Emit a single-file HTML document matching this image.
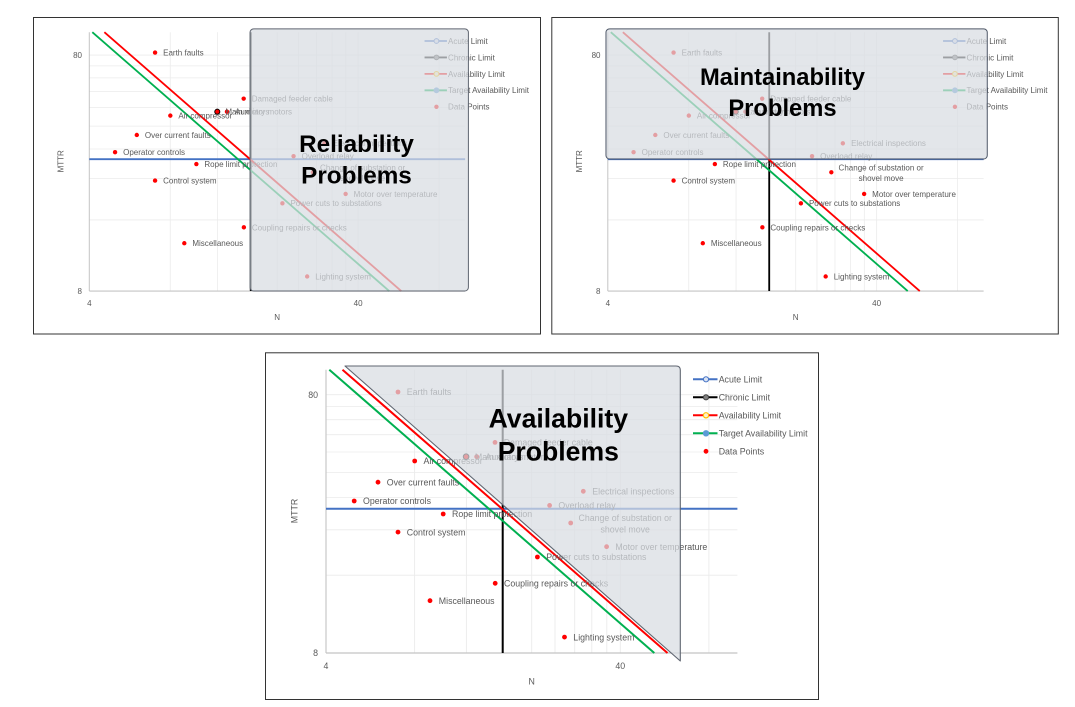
<!DOCTYPE html>
<html>
<head>
<meta charset="utf-8">
<style>
html,body{margin:0;padding:0;background:#fff;}
svg{display:block}
text{font-family:"Liberation Sans",Arial,sans-serif;}
</style>
</head>
<body>
<svg width="1075" height="707" viewBox="0 0 1075 707" xmlns="http://www.w3.org/2000/svg">
<rect x="0" y="0" width="1075" height="707" fill="#ffffff"/>

<!-- Panel borders -->
<rect x="33.5" y="17.5" width="507" height="316.5" fill="#fff" stroke="#333" stroke-width="1"/>
<rect x="551.8" y="17.5" width="506.5" height="316.5" fill="#fff" stroke="#333" stroke-width="1"/>
<rect x="265.5" y="352.8" width="553" height="346.7" fill="#fff" stroke="#333" stroke-width="1"/>

<!-- ================= PANEL 1 : Reliability ================= -->
<g transform="translate(-208.5,-305.5) scale(0.9135)">
  <g stroke="#ebebeb" stroke-width="0.85">
    <line x1="414.6" y1="369.7" x2="414.6" y2="653"/>
    <line x1="466.4" y1="369.7" x2="466.4" y2="653"/>
    <line x1="503.2" y1="369.7" x2="503.2" y2="653"/>
    <line x1="531.7" y1="369.7" x2="531.7" y2="653"/>
    <line x1="555.0" y1="369.7" x2="555.0" y2="653"/>
    <line x1="574.7" y1="369.7" x2="574.7" y2="653"/>
    <line x1="591.8" y1="369.7" x2="591.8" y2="653"/>
    <line x1="606.8" y1="369.7" x2="606.8" y2="653"/>
    <line x1="620.3" y1="369.7" x2="620.3" y2="653"/>
    <line x1="708.9" y1="369.7" x2="708.9" y2="653"/>
    <line x1="326" y1="575.2" x2="737.4" y2="575.2"/>
    <line x1="326" y1="529.8" x2="737.4" y2="529.8"/>
    <line x1="326" y1="497.5" x2="737.4" y2="497.5"/>
    <line x1="326" y1="472.5" x2="737.4" y2="472.5"/>
    <line x1="326" y1="452.0" x2="737.4" y2="452.0"/>
    <line x1="326" y1="434.7" x2="737.4" y2="434.7"/>
    <line x1="326" y1="419.7" x2="737.4" y2="419.7"/>
    <line x1="326" y1="406.5" x2="737.4" y2="406.5"/>
    <line x1="326" y1="394.7" x2="737.4" y2="394.7"/>
  </g>
  <line x1="326" y1="369.7" x2="326" y2="653" stroke="#c4c4c4" stroke-width="1.1"/>
  <line x1="326" y1="653" x2="737.4" y2="653" stroke="#c4c4c4" stroke-width="1.2"/>
  <g fill="#595959" font-size="8.8">
    <text x="318" y="397.9" text-anchor="end">80</text>
    <text x="318" y="656.2" text-anchor="end">8</text>
    <text x="326" y="669.2" text-anchor="middle">4</text>
    <text x="620.3" y="669.2" text-anchor="middle">40</text>
    <text x="531.7" y="684.5" text-anchor="middle">N</text>
    <text x="0" y="0" text-anchor="middle" transform="translate(297.5,511) rotate(-90)">MTTR</text>
  </g>
  <line x1="326" y1="508.7" x2="737.4" y2="508.7" stroke="#4472c4" stroke-width="2"/>
  <line x1="502.7" y1="369.7" x2="502.7" y2="653" stroke="#000" stroke-width="2"/>
  <line x1="342.5" y1="369.7" x2="667.5" y2="653" stroke="#ff0000" stroke-width="2"/>
  <line x1="329.3" y1="369.7" x2="654.3" y2="653" stroke="#00b050" stroke-width="2"/>
  <g fill="#ff0000">
    <circle cx="398" cy="392" r="2.4"/>
    <circle cx="495" cy="442.4" r="2.4"/>
    <circle cx="466.1" cy="456.7" r="2.8" stroke="#000" stroke-width="1"/>
    <circle cx="476.7" cy="456.7" r="2.4"/>
    <circle cx="414.7" cy="461" r="2.4"/>
    <circle cx="378" cy="482.2" r="2.4"/>
    <circle cx="354.2" cy="501" r="2.4"/>
    <circle cx="443.2" cy="514" r="2.4"/>
    <circle cx="398" cy="532.1" r="2.4"/>
    <circle cx="430" cy="600.7" r="2.4"/>
    <circle cx="495.2" cy="583.3" r="2.4"/>
    <circle cx="537.4" cy="557" r="2.4"/>
    <circle cx="564.5" cy="637.1" r="2.4"/>
    <circle cx="606.6" cy="546.7" r="2.4"/>
    <circle cx="583.3" cy="491.3" r="2.4"/>
    <circle cx="549.6" cy="505.4" r="2.4"/>
    <circle cx="570.7" cy="523" r="2.4"/>
  </g>
  <g fill="#595959" font-size="8.8">
    <text x="406.8" y="395.2">Earth faults</text>
    <text x="503.8" y="445.6">Damaged feeder cable</text>
    <text x="474.9" y="459.9">Main motors</text>
    <text x="485.5" y="459.9">Auxiliary motors</text>
    <text x="423.5" y="464.2">Air compressor</text>
    <text x="386.8" y="485.4">Over current faults</text>
    <text x="363" y="504.2">Operator controls</text>
    <text x="452" y="517.2">Rope limit protection</text>
    <text x="406.8" y="535.3">Control system</text>
    <text x="438.8" y="603.9">Miscellaneous</text>
    <text x="504" y="586.5">Coupling repairs or checks</text>
    <text x="546.2" y="560.2">Power cuts to substations</text>
    <text x="573.3" y="640.3">Lighting system</text>
    <text x="615.4" y="549.9">Motor over temperature</text>
    <text x="592.3" y="494.5">Electrical inspections</text>
    <text x="558.4" y="508.6">Overload relay</text>
    <text x="625.2" y="520.9" text-anchor="middle">Change of substation or</text>
    <text x="625.2" y="532.7" text-anchor="middle">shovel move</text>
  </g>
  <g>
    <line x1="693" y1="379.3" x2="717.5" y2="379.3" stroke="#4472c4" stroke-width="2"/>
    <circle cx="706" cy="379.3" r="2.6" fill="#dae3f3" stroke="#4472c4" stroke-width="1"/>
    <line x1="693" y1="397.3" x2="717.5" y2="397.3" stroke="#000" stroke-width="2"/>
    <circle cx="706" cy="397.3" r="2.6" fill="#808080" stroke="#404040" stroke-width="1"/>
    <line x1="693" y1="415.3" x2="717.5" y2="415.3" stroke="#ff0000" stroke-width="2"/>
    <circle cx="706" cy="415.3" r="2.6" fill="#fff2cc" stroke="#ffc000" stroke-width="1.2"/>
    <line x1="693" y1="433.3" x2="717.5" y2="433.3" stroke="#00b050" stroke-width="2"/>
    <circle cx="706" cy="433.3" r="2.7" fill="#5b9bd5" stroke="#5b9bd5" stroke-width="1"/>
    <circle cx="706" cy="451.3" r="2.4" fill="#ff0000"/>
    <g fill="#595959" font-size="8.8">
      <text x="718.7" y="382.5">Acute Limit</text>
      <text x="718.7" y="400.5">Chronic Limit</text>
      <text x="718.7" y="418.5">Availability Limit</text>
      <text x="718.7" y="436.5">Target Availability Limit</text>
      <text x="718.7" y="454.5">Data Points</text>
    </g>
  </g>
  <!-- overlay -->
  <rect x="502" y="366" width="239" height="287" rx="4" ry="4" fill="#d8dce2" fill-opacity="0.72" stroke="#5f6570" stroke-width="1.1"/>
  <g fill="#000" font-size="26.6" font-weight="bold" text-anchor="middle">
    <text x="618.5" y="500.6">Reliability</text>
    <text x="618.5" y="535.3">Problems</text>
  </g>
</g>

<!-- ================= PANEL 2 : Maintainability ================= -->
<g transform="translate(310,-305.5) scale(0.9135)">
  <g stroke="#ebebeb" stroke-width="0.85">
    <line x1="414.6" y1="369.7" x2="414.6" y2="653"/>
    <line x1="466.4" y1="369.7" x2="466.4" y2="653"/>
    <line x1="503.2" y1="369.7" x2="503.2" y2="653"/>
    <line x1="531.7" y1="369.7" x2="531.7" y2="653"/>
    <line x1="555.0" y1="369.7" x2="555.0" y2="653"/>
    <line x1="574.7" y1="369.7" x2="574.7" y2="653"/>
    <line x1="591.8" y1="369.7" x2="591.8" y2="653"/>
    <line x1="606.8" y1="369.7" x2="606.8" y2="653"/>
    <line x1="620.3" y1="369.7" x2="620.3" y2="653"/>
    <line x1="708.9" y1="369.7" x2="708.9" y2="653"/>
    <line x1="326" y1="575.2" x2="737.4" y2="575.2"/>
    <line x1="326" y1="529.8" x2="737.4" y2="529.8"/>
    <line x1="326" y1="497.5" x2="737.4" y2="497.5"/>
    <line x1="326" y1="472.5" x2="737.4" y2="472.5"/>
    <line x1="326" y1="452.0" x2="737.4" y2="452.0"/>
    <line x1="326" y1="434.7" x2="737.4" y2="434.7"/>
    <line x1="326" y1="419.7" x2="737.4" y2="419.7"/>
    <line x1="326" y1="406.5" x2="737.4" y2="406.5"/>
    <line x1="326" y1="394.7" x2="737.4" y2="394.7"/>
  </g>
  <line x1="326" y1="369.7" x2="326" y2="653" stroke="#c4c4c4" stroke-width="1.1"/>
  <line x1="326" y1="653" x2="737.4" y2="653" stroke="#c4c4c4" stroke-width="1.2"/>
  <g fill="#595959" font-size="8.8">
    <text x="318" y="397.9" text-anchor="end">80</text>
    <text x="318" y="656.2" text-anchor="end">8</text>
    <text x="326" y="669.2" text-anchor="middle">4</text>
    <text x="620.3" y="669.2" text-anchor="middle">40</text>
    <text x="531.7" y="684.5" text-anchor="middle">N</text>
    <text x="0" y="0" text-anchor="middle" transform="translate(297.5,511) rotate(-90)">MTTR</text>
  </g>
  <line x1="326" y1="508.7" x2="737.4" y2="508.7" stroke="#4472c4" stroke-width="2"/>
  <line x1="502.7" y1="369.7" x2="502.7" y2="653" stroke="#000" stroke-width="2"/>
  <line x1="342.5" y1="369.7" x2="667.5" y2="653" stroke="#ff0000" stroke-width="2"/>
  <line x1="329.3" y1="369.7" x2="654.3" y2="653" stroke="#00b050" stroke-width="2"/>
  <g fill="#ff0000">
    <circle cx="398" cy="392" r="2.4"/>
    <circle cx="495" cy="442.4" r="2.4"/>
    <circle cx="466.1" cy="456.7" r="2.8" stroke="#000" stroke-width="1"/>
    <circle cx="476.7" cy="456.7" r="2.4"/>
    <circle cx="414.7" cy="461" r="2.4"/>
    <circle cx="378" cy="482.2" r="2.4"/>
    <circle cx="354.2" cy="501" r="2.4"/>
    <circle cx="443.2" cy="514" r="2.4"/>
    <circle cx="398" cy="532.1" r="2.4"/>
    <circle cx="430" cy="600.7" r="2.4"/>
    <circle cx="495.2" cy="583.3" r="2.4"/>
    <circle cx="537.4" cy="557" r="2.4"/>
    <circle cx="564.5" cy="637.1" r="2.4"/>
    <circle cx="606.6" cy="546.7" r="2.4"/>
    <circle cx="583.3" cy="491.3" r="2.4"/>
    <circle cx="549.6" cy="505.4" r="2.4"/>
    <circle cx="570.7" cy="523" r="2.4"/>
  </g>
  <g fill="#595959" font-size="8.8">
    <text x="406.8" y="395.2">Earth faults</text>
    <text x="503.8" y="445.6">Damaged feeder cable</text>
    <text x="474.9" y="459.9">Main motors</text>
    <text x="485.5" y="459.9">Auxiliary motors</text>
    <text x="423.5" y="464.2">Air compressor</text>
    <text x="386.8" y="485.4">Over current faults</text>
    <text x="363" y="504.2">Operator controls</text>
    <text x="452" y="517.2">Rope limit protection</text>
    <text x="406.8" y="535.3">Control system</text>
    <text x="438.8" y="603.9">Miscellaneous</text>
    <text x="504" y="586.5">Coupling repairs or checks</text>
    <text x="546.2" y="560.2">Power cuts to substations</text>
    <text x="573.3" y="640.3">Lighting system</text>
    <text x="615.4" y="549.9">Motor over temperature</text>
    <text x="592.3" y="494.5">Electrical inspections</text>
    <text x="558.4" y="508.6">Overload relay</text>
    <text x="625.2" y="520.9" text-anchor="middle">Change of substation or</text>
    <text x="625.2" y="532.7" text-anchor="middle">shovel move</text>
  </g>
  <g>
    <line x1="693" y1="379.3" x2="717.5" y2="379.3" stroke="#4472c4" stroke-width="2"/>
    <circle cx="706" cy="379.3" r="2.6" fill="#dae3f3" stroke="#4472c4" stroke-width="1"/>
    <line x1="693" y1="397.3" x2="717.5" y2="397.3" stroke="#000" stroke-width="2"/>
    <circle cx="706" cy="397.3" r="2.6" fill="#808080" stroke="#404040" stroke-width="1"/>
    <line x1="693" y1="415.3" x2="717.5" y2="415.3" stroke="#ff0000" stroke-width="2"/>
    <circle cx="706" cy="415.3" r="2.6" fill="#fff2cc" stroke="#ffc000" stroke-width="1.2"/>
    <line x1="693" y1="433.3" x2="717.5" y2="433.3" stroke="#00b050" stroke-width="2"/>
    <circle cx="706" cy="433.3" r="2.7" fill="#5b9bd5" stroke="#5b9bd5" stroke-width="1"/>
    <circle cx="706" cy="451.3" r="2.4" fill="#ff0000"/>
    <g fill="#595959" font-size="8.8">
      <text x="718.7" y="382.5">Acute Limit</text>
      <text x="718.7" y="400.5">Chronic Limit</text>
      <text x="718.7" y="418.5">Availability Limit</text>
      <text x="718.7" y="436.5">Target Availability Limit</text>
      <text x="718.7" y="454.5">Data Points</text>
    </g>
  </g>
  <!-- overlay -->
  <rect x="324" y="366" width="417.4" height="142.5" rx="4" ry="4" fill="#d8dce2" fill-opacity="0.72" stroke="#4f5868" stroke-width="1.1"/>
  <g fill="#000" font-size="26" font-weight="bold" text-anchor="middle">
    <text x="517.2" y="427.7">Maintainability</text>
    <text x="517.2" y="461.6">Problems</text>
  </g>
</g>

<!-- ================= PANEL 3 : Availability ================= -->
<g>
  <g stroke="#ebebeb" stroke-width="0.85">
    <line x1="414.6" y1="369.7" x2="414.6" y2="653"/>
    <line x1="466.4" y1="369.7" x2="466.4" y2="653"/>
    <line x1="503.2" y1="369.7" x2="503.2" y2="653"/>
    <line x1="531.7" y1="369.7" x2="531.7" y2="653"/>
    <line x1="555.0" y1="369.7" x2="555.0" y2="653"/>
    <line x1="574.7" y1="369.7" x2="574.7" y2="653"/>
    <line x1="591.8" y1="369.7" x2="591.8" y2="653"/>
    <line x1="606.8" y1="369.7" x2="606.8" y2="653"/>
    <line x1="620.3" y1="369.7" x2="620.3" y2="653"/>
    <line x1="708.9" y1="369.7" x2="708.9" y2="653"/>
    <line x1="326" y1="575.2" x2="737.4" y2="575.2"/>
    <line x1="326" y1="529.8" x2="737.4" y2="529.8"/>
    <line x1="326" y1="497.5" x2="737.4" y2="497.5"/>
    <line x1="326" y1="472.5" x2="737.4" y2="472.5"/>
    <line x1="326" y1="452.0" x2="737.4" y2="452.0"/>
    <line x1="326" y1="434.7" x2="737.4" y2="434.7"/>
    <line x1="326" y1="419.7" x2="737.4" y2="419.7"/>
    <line x1="326" y1="406.5" x2="737.4" y2="406.5"/>
    <line x1="326" y1="394.7" x2="737.4" y2="394.7"/>
  </g>
  <line x1="326" y1="369.7" x2="326" y2="653" stroke="#c4c4c4" stroke-width="1.1"/>
  <line x1="326" y1="653" x2="737.4" y2="653" stroke="#c4c4c4" stroke-width="1.2"/>
  <g fill="#595959" font-size="8.8">
    <text x="318" y="397.9" text-anchor="end">80</text>
    <text x="318" y="656.2" text-anchor="end">8</text>
    <text x="326" y="669.2" text-anchor="middle">4</text>
    <text x="620.3" y="669.2" text-anchor="middle">40</text>
    <text x="531.7" y="684.5" text-anchor="middle">N</text>
    <text x="0" y="0" text-anchor="middle" transform="translate(297.5,511) rotate(-90)">MTTR</text>
  </g>
  <line x1="326" y1="508.7" x2="737.4" y2="508.7" stroke="#4472c4" stroke-width="2"/>
  <line x1="502.7" y1="369.7" x2="502.7" y2="653" stroke="#000" stroke-width="2"/>
  <line x1="342.5" y1="369.7" x2="667.5" y2="653" stroke="#ff0000" stroke-width="2"/>
  <line x1="329.3" y1="369.7" x2="654.3" y2="653" stroke="#00b050" stroke-width="2"/>
  <g fill="#ff0000">
    <circle cx="398" cy="392" r="2.4"/>
    <circle cx="495" cy="442.4" r="2.4"/>
    <circle cx="466.1" cy="456.7" r="2.8" stroke="#000" stroke-width="1"/>
    <circle cx="476.7" cy="456.7" r="2.4"/>
    <circle cx="414.7" cy="461" r="2.4"/>
    <circle cx="378" cy="482.2" r="2.4"/>
    <circle cx="354.2" cy="501" r="2.4"/>
    <circle cx="443.2" cy="514" r="2.4"/>
    <circle cx="398" cy="532.1" r="2.4"/>
    <circle cx="430" cy="600.7" r="2.4"/>
    <circle cx="495.2" cy="583.3" r="2.4"/>
    <circle cx="537.4" cy="557" r="2.4"/>
    <circle cx="564.5" cy="637.1" r="2.4"/>
    <circle cx="606.6" cy="546.7" r="2.4"/>
    <circle cx="583.3" cy="491.3" r="2.4"/>
    <circle cx="549.6" cy="505.4" r="2.4"/>
    <circle cx="570.7" cy="523" r="2.4"/>
  </g>
  <g fill="#595959" font-size="8.8">
    <text x="406.8" y="395.2">Earth faults</text>
    <text x="503.8" y="445.6">Damaged feeder cable</text>
    <text x="474.9" y="459.9">Main motors</text>
    <text x="485.5" y="459.9">Auxiliary motors</text>
    <text x="423.5" y="464.2">Air compressor</text>
    <text x="386.8" y="485.4">Over current faults</text>
    <text x="363" y="504.2">Operator controls</text>
    <text x="452" y="517.2">Rope limit protection</text>
    <text x="406.8" y="535.3">Control system</text>
    <text x="438.8" y="603.9">Miscellaneous</text>
    <text x="504" y="586.5">Coupling repairs or checks</text>
    <text x="546.2" y="560.2">Power cuts to substations</text>
    <text x="573.3" y="640.3">Lighting system</text>
    <text x="615.4" y="549.9">Motor over temperature</text>
    <text x="592.3" y="494.5">Electrical inspections</text>
    <text x="558.4" y="508.6">Overload relay</text>
    <text x="625.2" y="520.9" text-anchor="middle">Change of substation or</text>
    <text x="625.2" y="532.7" text-anchor="middle">shovel move</text>
  </g>
  <g>
    <line x1="693" y1="379.3" x2="717.5" y2="379.3" stroke="#4472c4" stroke-width="2"/>
    <circle cx="706" cy="379.3" r="2.6" fill="#dae3f3" stroke="#4472c4" stroke-width="1"/>
    <line x1="693" y1="397.3" x2="717.5" y2="397.3" stroke="#000" stroke-width="2"/>
    <circle cx="706" cy="397.3" r="2.6" fill="#808080" stroke="#404040" stroke-width="1"/>
    <line x1="693" y1="415.3" x2="717.5" y2="415.3" stroke="#ff0000" stroke-width="2"/>
    <circle cx="706" cy="415.3" r="2.6" fill="#fff2cc" stroke="#ffc000" stroke-width="1.2"/>
    <line x1="693" y1="433.3" x2="717.5" y2="433.3" stroke="#00b050" stroke-width="2"/>
    <circle cx="706" cy="433.3" r="2.7" fill="#5b9bd5" stroke="#5b9bd5" stroke-width="1"/>
    <circle cx="706" cy="451.3" r="2.4" fill="#ff0000"/>
    <g fill="#595959" font-size="8.8">
      <text x="718.7" y="382.5">Acute Limit</text>
      <text x="718.7" y="400.5">Chronic Limit</text>
      <text x="718.7" y="418.5">Availability Limit</text>
      <text x="718.7" y="436.5">Target Availability Limit</text>
      <text x="718.7" y="454.5">Data Points</text>
    </g>
  </g>
  <!-- overlay -->
  <path d="M345,366 L676,366 Q680.3,366 680.3,370 L680.3,661 Z" fill="#d8dce2" fill-opacity="0.72" stroke="#5f6570" stroke-width="1.1" stroke-linejoin="round"/>
  <g fill="#000" font-size="26.6" font-weight="bold" text-anchor="middle">
    <text x="558.3" y="427.5">Availability</text>
    <text x="558.3" y="460.7">Problems</text>
  </g>
</g>
</svg>
</body>
</html>
